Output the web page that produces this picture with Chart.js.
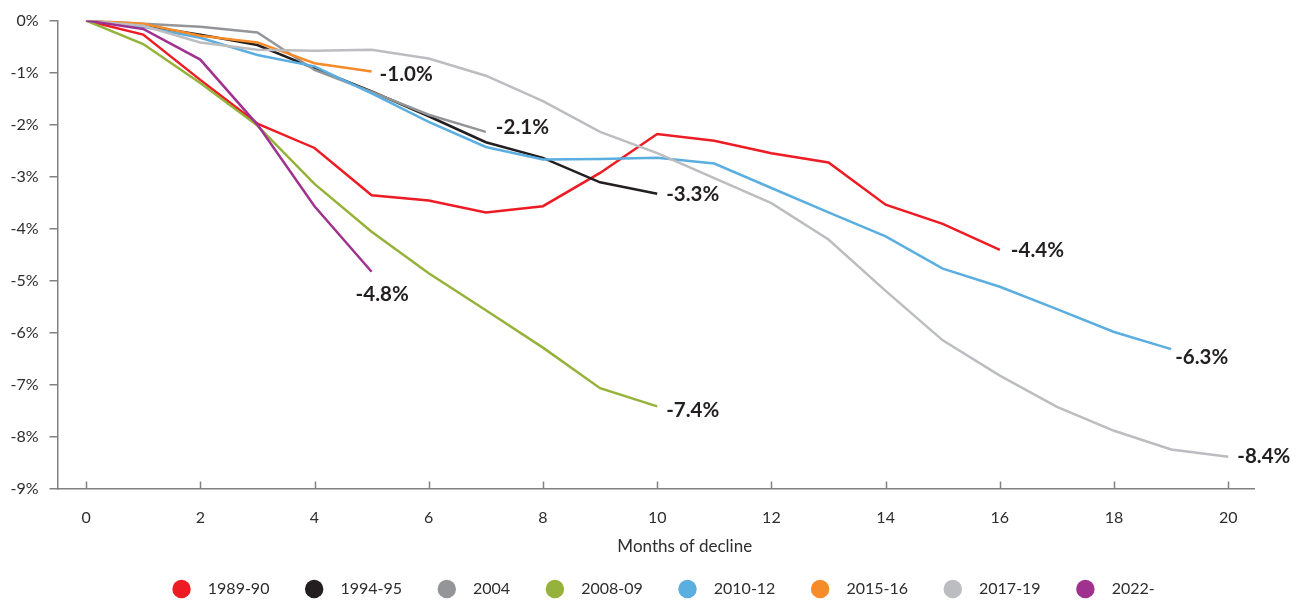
<!DOCTYPE html>
<html>
<head>
<meta charset="utf-8">
<script src="https://cdn.jsdelivr.net/npm/chart.js@4.4.1/dist/chart.umd.min.js"></script>
<style>
html,body{margin:0;padding:0;background:#fff;}
#c{display:block;}
</style>
</head>
<body>
<canvas id="c" width="1303" height="601"></canvas>
<script>
// ---------- data ----------
const months = [0,1,2,3,4,5,6,7,8,9,10,11,12,13,14,15,16,17,18,19,20];
const seriesNames = ['1989-90','1994-95','2004','2008-09','2010-12','2015-16','2017-19','2022-'];
const s1989 = [0,-0.27,-1.14,-1.98,-2.45,-3.36,-3.46,-3.69,-3.57,-2.93,-2.18,-2.31,-2.55,-2.73,-3.54,-3.91,-4.41];
const s1994 = [0,-0.10,-0.27,-0.47,-0.92,-1.36,-1.84,-2.34,-2.64,-3.11,-3.33];
const s2004 = [0,-0.06,-0.12,-0.23,-0.95,-1.37,-1.81,-2.14];
const s2008 = [0,-0.45,-1.20,-2.02,-3.14,-4.06,-4.86,-5.57,-6.29,-7.07,-7.42];
const s2010 = [0,-0.12,-0.33,-0.66,-0.88,-1.40,-1.95,-2.43,-2.67,-2.66,-2.64,-2.75,-3.22,-3.69,-4.15,-4.77,-5.12,-5.55,-5.99,-6.32];
const s2015 = [0,-0.06,-0.29,-0.42,-0.82,-0.98];
const s2017 = [0,-0.10,-0.42,-0.56,-0.58,-0.56,-0.73,-1.06,-1.55,-2.14,-2.55,-3.03,-3.51,-4.21,-5.20,-6.15,-6.83,-7.43,-7.89,-8.25,-8.39];
const s2022 = [0,-0.16,-0.75,-2.00,-3.57,-4.83];
const endLabels = ['-4.4%','-3.3%','-2.1%','-7.4%','-6.3%','-1.0%','-8.4%','-4.8%'];
const yTicks = [0,-1,-2,-3,-4,-5,-6,-7,-8,-9];
const xTicks = [0,2,4,6,8,10,12,14,16,18,20];
const xTitle = 'Months of decline';

// ---------- styles ----------
const seriesValues = [s1989,s1994,s2004,s2008,s2010,s2015,s2017,s2022];
const colors = ['#ed1c24','#231f20','#939598','#95b23a','#5aaee0','#f68b2a','#bcbdc0','#a0328f'];
const labelOffsets = [[11,1],[9,1],[10,-4],[9,4],[4,8],[8,3],[9,0],[-16,23]];
const FONT = 'Lato';
const axisColor = '#808080';
const textColor = '#2d2d2d';

const datasets = seriesNames.map((name,i)=>({
  label: name,
  data: seriesValues[i],
  borderColor: colors[i],
  backgroundColor: colors[i],
  borderWidth: 2.5,
  pointRadius: 0,
  tension: 0,
  fill: false,
  order: seriesNames.length - 1 - i
}));

const endLabelPlugin = {
  id: 'endLabels',
  afterDatasetsDraw(chart){
    const ctx = chart.ctx;
    ctx.save();
    ctx.font = 'bold 20.5px ' + FONT;
    ctx.fillStyle = '#231f20';
    ctx.textAlign = 'left';
    ctx.textBaseline = 'middle';
    chart.data.datasets.forEach((ds,i)=>{
      const meta = chart.getDatasetMeta(i);
      const pt = meta.data[meta.data.length-1];
      ctx.fillText(endLabels[i], pt.x + labelOffsets[i][0], pt.y + labelOffsets[i][1]);
    });
    ctx.restore();
  }
};

const extrasPlugin = {
  id: 'extras',
  afterDraw(chart){
    const ctx = chart.ctx;
    const xs = chart.scales.x;
    const area = chart.chartArea;
    ctx.save();
    // inward x ticks
    ctx.strokeStyle = axisColor;
    ctx.lineWidth = 1.5;
    xTicks.forEach(v=>{
      const px = Math.round(xs.getPixelForValue(v)) + 0.5;
      ctx.beginPath();
      ctx.moveTo(px, area.bottom);
      ctx.lineTo(px, area.bottom - 7);
      ctx.stroke();
    });
    // axis title
    ctx.font = '17px ' + FONT;
    ctx.fillStyle = textColor;
    ctx.textAlign = 'center';
    ctx.textBaseline = 'middle';
    ctx.fillText(xTitle, (area.left + area.right)/2 + 29, 547);
    // legend
    ctx.font = '16px ' + FONT;
    const r = 9.25, gapText = 17, gapItem = 35.5;
    const widths = seriesNames.map(n=>ctx.measureText(n).width);
    let total = 0;
    widths.forEach((w,i)=>{ total += 2*r + gapText + w + (i<widths.length-1?gapItem:0); });
    let x = 663.5 - total/2;
    const cy = 589;
    ctx.textAlign = 'left';
    seriesNames.forEach((n,i)=>{
      ctx.fillStyle = colors[i];
      ctx.beginPath();
      ctx.arc(x + r, cy, r, 0, Math.PI*2);
      ctx.fill();
      ctx.fillStyle = textColor;
      ctx.fillText(n, x + 2*r + gapText, cy);
      x += 2*r + gapText + widths[i] + gapItem;
    });
    ctx.restore();
  }
};

new Chart(document.getElementById('c'), {
  type: 'line',
  data: { labels: months, datasets },
  options: {
    responsive: false,
    animation: false,
    devicePixelRatio: 1,
    layout: { padding: { top: 19, right: 49, bottom: 40, left: 0 } },
    plugins: { legend: { display: false }, tooltip: { enabled: false } },
    scales: {
      x: {
        type: 'linear',
        min: -0.5,
        max: 20.45,
        afterBuildTicks: s => { s.ticks = xTicks.map(v=>({value:v})); },
        afterFit: s => { s.height = 72.5; },
        grid: { display: false, drawTicks: false },
        border: { display: true, color: axisColor, width: 1.5 },
        ticks: { color: textColor, font: { family: FONT, size: 16 }, padding: 20, maxRotation: 0, autoSkip: false }
      },
      y: {
        min: -9,
        max: 0,
        afterBuildTicks: s => { s.ticks = yTicks.map(v=>({value:v})); },
        afterFit: s => { s.width = 57.5; },
        grid: { display: true, drawOnChartArea: false, drawTicks: true, tickLength: 8, color: axisColor, lineWidth: 1.5 },
        border: { display: true, color: axisColor, width: 1.5 },
        ticks: { color: textColor, font: { family: FONT, size: 16 }, padding: 11, callback: v => v + '%' }
      }
    }
  },
  plugins: [endLabelPlugin, extrasPlugin]
});
</script>
</body>
</html>
